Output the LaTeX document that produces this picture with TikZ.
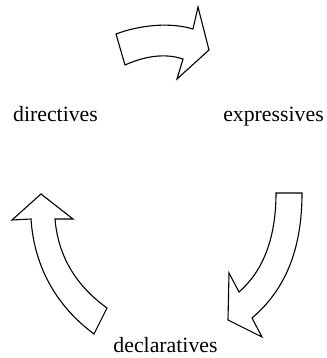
\documentclass[tikz,border=0pt]{standalone}
\usepackage{fontspec}
\setmainfont{Liberation Serif}
\begin{document}
\begin{tikzpicture}[x=1pt,y=-1pt,
  bigarrow/.style={draw=black,line width=1.1pt,fill=white,line join=miter},
  lbl/.style={anchor=base,inner sep=0pt,font=\fontsize{21.8}{24}\selectfont}]
\useasboundingbox (0,0) rectangle (326,358);
\node[lbl] (dir) at (55.5,122) {directives};
\node[lbl] (exp) at (273.5,122) {expressives};
\node[lbl] (dec) at (165.5,352) {declaratives};
% top arrow
\path[bigarrow] (116,34) .. controls (140,25) and (170,22) .. (193,29) -- (198,7) -- (209,50) -- (177,79) -- (183,59) .. controls (165,53) and (145,56) .. (125,65) -- cycle;
% right arrow
\path[bigarrow] (276,193) -- (302,193) .. controls (302,250) and (285,290) .. (252,318) -- (262,337) -- (228,320) -- (229,273) -- (239,292) .. controls (262,272) and (276,240) .. (276,193) -- cycle;
% left arrow
\path[bigarrow] (41,194) -- (73,219) -- (55,219) .. controls (58,255) and (75,285) .. (107,308) -- (94,334) .. controls (55,305) and (34,265) .. (31,219) -- (12,220) -- cycle;
\end{tikzpicture}
\end{document}
